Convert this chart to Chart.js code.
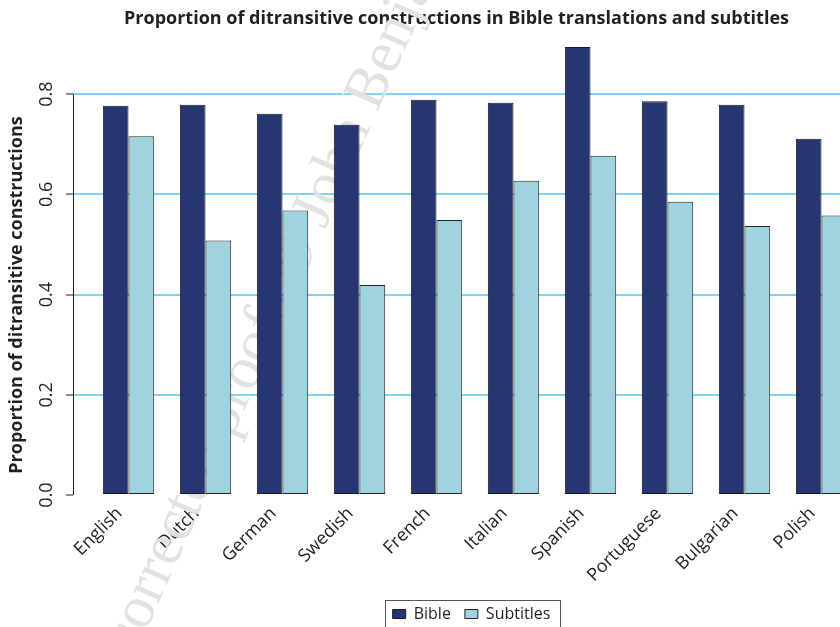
<!DOCTYPE html>
<html>
<head>
<meta charset="utf-8">
<script src="https://cdn.jsdelivr.net/npm/chart.js@4.4.1/dist/chart.umd.min.js"></script>
<style>
  html, body { margin: 0; padding: 0; background: #fff; overflow: hidden; }
</style>
</head>
<body>
<canvas id="chart" width="840" height="627"></canvas>
<script>
// data
const languages = ['English', 'Dutch', 'German', 'Swedish', 'French', 'Italian', 'Spanish', 'Portuguese', 'Bulgarian', 'Polish'];
const bible = [0.777, 0.779, 0.761, 0.739, 0.789, 0.783, 0.894, 0.786, 0.779, 0.711];
const subtitles = [0.716, 0.508, 0.568, 0.419, 0.549, 0.627, 0.677, 0.585, 0.537, 0.558];
const yTicks = [0, 0.2, 0.4, 0.6, 0.8];

const FONT = '"Open Sans", sans-serif';
const INK = '#231f20';

// y axis line only from 0 to the last tick, like R does
const axisLine = {
    id: 'axisLine',
    afterDraw(chart) {
        const y = chart.scales.y;
        const ctx = chart.ctx;
        const x = chart.chartArea.left;
        ctx.save();
        ctx.strokeStyle = INK;
        ctx.lineWidth = 1;
        ctx.beginPath();
        ctx.moveTo(x + 0.5, y.getPixelForValue(yTicks[0]));
        ctx.lineTo(x + 0.5, y.getPixelForValue(yTicks[yTicks.length - 1]));
        ctx.stroke();
        // y axis title
        ctx.translate(17, 295);
        ctx.rotate(-Math.PI / 2);
        ctx.font = 'bold 18px ' + FONT;
        ctx.fillStyle = INK;
        ctx.textAlign = 'center';
        ctx.textBaseline = 'middle';
        ctx.fillText('Proportion of ditransitive constructions', 0, 0);
        ctx.restore();
    }
};

// move legend a bit right and put a frame round it
const legendBox = {
    id: 'legendBox',
    afterLayout(chart) {
        chart.legend.left += 15;
        chart.legend.right += 15;
    },
    afterDraw(chart) {
        const boxes = chart.legend.legendHitBoxes;
        if (!boxes.length) return;
        const first = boxes[0], last = boxes[boxes.length - 1];
        const ctx = chart.ctx;
        ctx.save();
        ctx.strokeStyle = '#555';
        ctx.lineWidth = 1;
        const l = Math.round(first.left - 8) + 0.5;
        const r = Math.round(last.left + last.width + 10) + 0.5;
        const t = Math.round(first.top - 6) + 0.5;
        ctx.strokeRect(l, t, r - l, 60);
        ctx.restore();
    }
};

// faint proof watermark behind the bars
const watermark = {
    id: 'watermark',
    beforeDatasetsDraw(chart) {
        const ctx = chart.ctx;
        ctx.save();
        ctx.font = '60px "Liberation Serif", serif';
        ctx.fillStyle = '#e2e2e2';
        ctx.translate(295, 258);
        ctx.rotate(-66 * Math.PI / 180);
        ctx.textBaseline = 'middle';
        const pre = ctx.measureText('Uncorrected proofs ').width + ctx.measureText('©').width / 2;
        ctx.fillText('Uncorrected proofs © John Benjamins Publishing Company', -pre, 0);
        ctx.restore();
    }
};

const ctx = document.getElementById('chart').getContext('2d');

const chart = new Chart(ctx, {
    type: 'bar',
    data: {
        datasets: [
            {
                label: 'Bible',
                data: bible.map((v, i) => ({ x: i, y: v })),
                backgroundColor: '#263673',
                borderColor: '#1a1a1a',
                borderWidth: 1,
                borderSkipped: false,
                categoryPercentage: 0.667,
                barPercentage: 1.0
            },
            {
                label: 'Subtitles',
                data: subtitles.map((v, i) => ({ x: i, y: v })),
                backgroundColor: '#9fd3e0',
                borderColor: '#262626',
                borderWidth: 1,
                borderSkipped: false,
                categoryPercentage: 0.667,
                barPercentage: 1.0
            }
        ]
    },
    options: {
        responsive: false,
        animation: false,
        devicePixelRatio: 1,
        layout: { padding: { left: 0, right: 0, top: 0, bottom: -5 } },
        plugins: {
            title: {
                display: true,
                text: 'Proportion of ditransitive constructions in Bible translations and subtitles',
                fullSize: false,
                color: INK,
                font: { family: FONT, size: 18, weight: 'bold' },
                padding: { top: 8.5, bottom: 3.9 }
            },
            legend: {
                position: 'bottom',
                fullSize: false,
                labels: {
                    color: INK,
                    font: { family: FONT, size: 16 },
                    boxWidth: 13,
                    boxHeight: 9,
                    padding: 14
                }
            },
            tooltip: { enabled: false }
        },
        scales: {
            x: {
                type: 'linear',
                offset: false,
                bounds: 'data',
                min: -0.721,
                max: 9.24,
                afterBuildTicks: (s) => { s.ticks = languages.map((_, i) => ({ value: i })); },
                afterFit: (s) => { s.height = 97; s.paddingLeft = 0; s.paddingRight = 0; },
                grid: { display: false, drawTicks: false, offset: false },
                border: { display: false },
                ticks: {
                    autoSkip: false,
                    minRotation: 45,
                    maxRotation: 45,
                    padding: 8,
                    labelOffset: -9,
                    color: INK,
                    font: { family: FONT, size: 18 },
                    callback: (v) => languages[v]
                }
            },
            y: {
                min: 0,
                max: 0.92,
                afterBuildTicks: (s) => { s.ticks = yTicks.map(v => ({ value: v })); },
                afterFit: (s) => { s.width = 73; s.paddingTop = 0; s.paddingBottom = 0; },
                grid: {
                    color: (c) => (c.tick && c.tick.value === 0) ? 'rgba(0,0,0,0)' : '#80d3f2',
                    lineWidth: 2,
                    tickLength: 7,
                    tickColor: INK,
                    tickWidth: 1
                },
                border: { display: false },
                ticks: {
                    minRotation: 90,
                    maxRotation: 90,
                    crossAlign: 'center',
                    padding: 6,
                    color: INK,
                    font: { family: FONT, size: 18 },
                    callback: (v) => v.toFixed(1)
                }
            }
        }
    },
    plugins: [watermark, axisLine, legendBox]
});
</script>
</body>
</html>
